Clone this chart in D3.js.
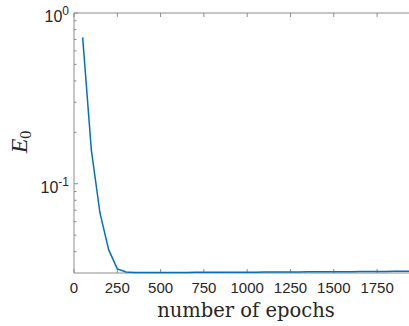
<!DOCTYPE html>
<html>
<head>
<meta charset="utf-8">
<script src="https://cdn.jsdelivr.net/npm/d3@7"></script>
<style>
  body { margin: 0; background: #fff; }
</style>
</head>
<body>
<div id="chart"></div>
<script>
var epochs = [50, 100, 150, 200, 250, 300, 350, 400, 450, 500, 550, 600, 650, 700, 750, 800, 850, 900, 950, 1000,
              1050, 1100, 1150, 1200, 1250, 1300, 1350, 1400, 1450, 1500, 1550, 1600, 1650, 1700, 1750, 1800, 1850, 1900, 1950, 2000];
var errors = [0.72, 0.158, 0.0674, 0.0411, 0.0317, 0.0304, 0.0302, 0.0302, 0.0302, 0.0302, 0.0302, 0.0302, 0.0302, 0.0303, 0.0303, 0.0303, 0.0303, 0.0303, 0.0303, 0.0303,
              0.0303, 0.0304, 0.0304, 0.0304, 0.0304, 0.0304, 0.0305, 0.0305, 0.0305, 0.0305, 0.0305, 0.0305, 0.0306, 0.0306, 0.0306, 0.0306, 0.0307, 0.0307, 0.0307, 0.0308];
var xTicks = [0, 250, 500, 750, 1000, 1250, 1500, 1750];
var yMajor = [1, 0.1];
var yMinor = [0.04, 0.05, 0.06, 0.07, 0.08, 0.09, 0.2, 0.3, 0.4, 0.5, 0.6, 0.7, 0.8, 0.9];

var width = 409, height = 326;
var margin = {top: 13, left: 74, bottom: 53};

var svg = d3.select("#chart").append("svg")
    .attr("width", width)
    .attr("height", height);

var xScale = d3.scaleLinear()
    .domain([0, 2000])
    .range([margin.left, margin.left + 346.4]);

var yScale = d3.scaleLog()
    .domain([0.03, 1])
    .range([height - margin.bottom, margin.top]);

var axisColor = "#8c8c8c";
var x0 = xScale(0), x1 = xScale(2000), yb = yScale(0.03), yt = yScale(1);

// box lines (left, bottom, top)
svg.append("line").attr("x1", x0).attr("x2", x0).attr("y1", yt).attr("y2", yb)
    .attr("stroke", axisColor).attr("stroke-width", 1);
svg.append("line").attr("x1", x0).attr("x2", x1).attr("y1", yb).attr("y2", yb)
    .attr("stroke", axisColor).attr("stroke-width", 1);
svg.append("line").attr("x1", x0).attr("x2", x1).attr("y1", yt).attr("y2", yt)
    .attr("stroke", axisColor).attr("stroke-width", 1);

// x ticks (inside, bottom and top)
svg.selectAll(".xtb").data(xTicks).enter().append("line")
    .attr("x1", function(d) { return xScale(d); }).attr("x2", function(d) { return xScale(d); })
    .attr("y1", yb).attr("y2", yb - 4)
    .attr("stroke", axisColor);
svg.selectAll(".xtt").data(xTicks).enter().append("line")
    .attr("x1", function(d) { return xScale(d); }).attr("x2", function(d) { return xScale(d); })
    .attr("y1", yt).attr("y2", yt + 4)
    .attr("stroke", axisColor);

svg.selectAll(".xlab").data(xTicks).enter().append("text")
    .attr("x", function(d) { return xScale(d); })
    .attr("y", yb + 20)
    .attr("text-anchor", "middle")
    .attr("font-family", "Liberation Sans, Arial, sans-serif")
    .attr("font-size", 15)
    .attr("fill", "#262626")
    .text(function(d) { return d; });

// y ticks
svg.selectAll(".ytmaj").data(yMajor).enter().append("line")
    .attr("x1", x0).attr("x2", x0 + 4)
    .attr("y1", function(d) { return yScale(d); }).attr("y2", function(d) { return yScale(d); })
    .attr("stroke", axisColor);
svg.selectAll(".ytmin").data(yMinor).enter().append("line")
    .attr("x1", x0).attr("x2", x0 + 2.5)
    .attr("y1", function(d) { return yScale(d); }).attr("y2", function(d) { return yScale(d); })
    .attr("stroke", axisColor);

var ylab = svg.selectAll(".ylab").data(yMajor).enter().append("text")
    .attr("x", x0 - 5)
    .attr("y", function(d) { return yScale(d) + 9; })
    .attr("text-anchor", "end")
    .attr("font-family", "Liberation Sans, Arial, sans-serif")
    .attr("font-size", 16)
    .attr("fill", "#262626");
ylab.append("tspan").text("10");
ylab.append("tspan")
    .attr("dy", -7)
    .attr("font-size", 12)
    .text(function(d) { return Math.round(Math.log10(d)); });

// line
var line = d3.line()
    .x(function(d, i) { return xScale(epochs[i]); })
    .y(function(d) { return yScale(d); });

svg.append("clipPath").attr("id", "clip")
    .append("rect").attr("x", x0).attr("y", yt - 2).attr("width", x1 - x0).attr("height", yb - yt + 4);

svg.append("path")
    .datum(errors)
    .attr("clip-path", "url(#clip)")
    .attr("d", line)
    .attr("fill", "none")
    .attr("stroke", "#0072BD")
    .attr("stroke-width", 1.5);

// axis labels
svg.append("text")
    .attr("x", 246)
    .attr("y", 317)
    .attr("text-anchor", "middle")
    .attr("font-family", "DejaVu Serif, Liberation Serif, serif")
    .attr("font-size", 19.5)
    .attr("fill", "#262626")
    .text("number of epochs");

var ylabel = svg.append("text")
    .attr("transform", "translate(27,142) rotate(-90)")
    .attr("text-anchor", "middle")
    .attr("font-family", "Liberation Serif, DejaVu Serif, serif")
    .attr("font-size", 24)
    .attr("fill", "#262626");
ylabel.append("tspan").attr("font-style", "italic").text("E");
ylabel.append("tspan").attr("font-size", 16).attr("dy", 4).text("0");
</script>
</body>
</html>
